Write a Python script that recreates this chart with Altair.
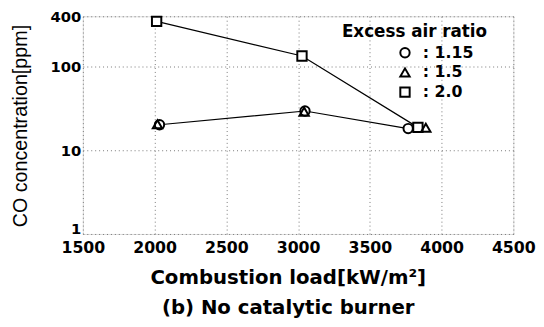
import altair as alt
import pandas as pd

# Data
series = ["1.15", "1.15", "1.15", "1.5", "1.5", "1.5", "2.0", "2.0", "2.0"]
load = [2034, 3048, 3767, 2020, 3042, 3890, 2014, 3027, 3835]
co = [20.2, 29.5, 18.2, 20.5, 29.0, 18.6, 348, 134, 18.8]
order = [3, 3, 3, 1, 1, 1, 2, 2, 2]

x_ticks = [1500, 2000, 2500, 3000, 3500, 4000, 4500]
y_ticks = [1, 10, 100, 400]
ratios = ["1.15", "1.5", "2.0"]
shapes = ["circle", "triangle-up", "square"]

df = pd.DataFrame({"ratio": series, "load": load, "co": co, "ord": order})

BOLD = "DejaVu Sans"

x_enc = alt.X(
    "load:Q",
    scale=alt.Scale(domain=[1500, 4500], nice=False),
    axis=alt.Axis(
        values=x_ticks, format="d",
        title="Combustion load[kW/m²]",
        titleFont=BOLD, titleFontWeight="bold", titleFontSize=20,
        titleX=208, titleY=50, titleBaseline="alphabetic",
        labelFont=BOLD, labelFontWeight="bold", labelFontSize=16,
        labelPadding=6, labelColor="black",
        grid=True, gridDash=[1, 3], gridColor="#777", gridWidth=1,
        tickSize=0, domain=False, labelFlush=False,
    ),
)
y_enc = alt.Y(
    "co:Q",
    scale=alt.Scale(type="log", domain=[1, 400], nice=False),
    axis=alt.Axis(
        values=y_ticks, format="d",
        title="CO concentration[ppm]",
        titleFont="Liberation Sans", titleFontWeight="normal", titleFontSize=20,
        titleAngle=270, titleX=-63, titleY=111, titleBaseline="middle",
        titleAlign="center",
        labelFont=BOLD, labelFontWeight="bold", labelFontSize=15,
        labelPadding=2, labelColor="black",
        labelOffset={"expr": "datum.value == 1 ? -5 : 0"},
        grid=True, gridDash=[1, 3], gridColor="#777", gridWidth=1,
        tickSize=0, domain=False, labelFlush=False,
    ),
)

lines = alt.Chart(df).transform_filter(
    alt.datum.ratio != "1.5"
).mark_line(color="black", strokeWidth=1.2).encode(
    x=x_enc, y=y_enc, detail="ratio:N"
)

shape_scale = alt.Scale(domain=ratios, range=shapes)

fills = alt.Chart(df).mark_point(
    filled=True, fill="white", stroke="white", strokeWidth=0, size=90, opacity=1
).encode(
    x=x_enc, y=y_enc, order="ord:Q",
    shape=alt.Shape("ratio:N", scale=shape_scale, legend=None),
)

points = alt.Chart(df).mark_point(
    filled=False, color="black", strokeWidth=2, size=90, opacity=1
).encode(
    x=x_enc,
    y=y_enc,
    order="ord:Q",
    shape=alt.Shape(
        "ratio:N",
        scale=shape_scale,
        legend=alt.Legend(
            title="Excess air ratio",
            orient="none", legendX=263, legendY=8,
            titleFont=BOLD, titleFontWeight="bold", titleFontSize=17,
            titleColor="black", titlePadding=4,
            labelFont=BOLD, labelFontWeight="bold", labelFontSize=16,
            labelColor="black",
            labelExpr="': ' + datum.label",
            symbolOffset=56, labelOffset=10,
            symbolSize=90, symbolStrokeWidth=2, symbolStrokeColor="black",
            rowPadding=2,
        ),
    ),
)

chart = alt.layer(lines, fills, points).resolve_legend(
    shape="independent"
).properties(
    width=437,
    height=221,
    autosize=alt.AutoSizeParams(type="none"),
    padding={"left": 76, "top": 6, "right": 23, "bottom": 90},
    title=alt.TitleParams(
        "(b) No catalytic burner", orient="bottom", anchor="middle",
        font=BOLD, fontWeight="bold", fontSize=20, color="black",
        dx=-10, offset=11,
    ),
).configure_view(
    stroke="black", strokeWidth=1.5
).configure(background="white")

chart.save("out.html", embed_options={"renderer": "svg", "actions": False})
